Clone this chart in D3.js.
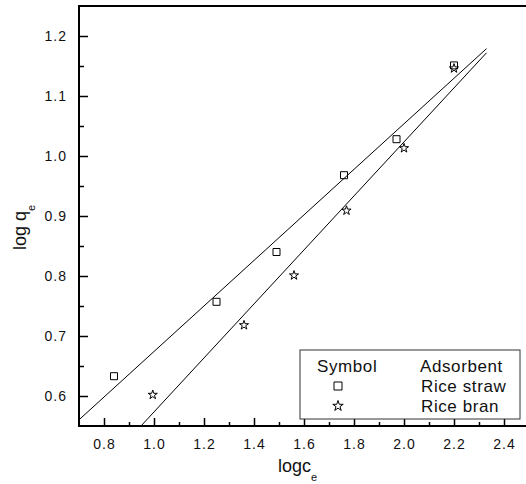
<!DOCTYPE html>
<html>
<head>
<meta charset="utf-8">
<script src="https://cdn.jsdelivr.net/npm/d3@7"></script>
<style>
  body { margin: 0; background: #fff; }
  svg { display: block; font-family: "Liberation Sans", Arial, sans-serif; }
</style>
</head>
<body>
<div id="chart"></div>
<script>
// values
let strawX = [0.84, 1.25, 1.49, 1.76, 1.97, 2.20];
let strawY = [0.633, 0.757, 0.840, 0.968, 1.028, 1.151];
let branX = [0.995, 1.36, 1.56, 1.77, 2.00, 2.20];
let branY = [0.602, 0.718, 0.801, 0.909, 1.013, 1.146];
let xTicks = [0.8, 1.0, 1.2, 1.4, 1.6, 1.8, 2.0, 2.2, 2.4];
let xMinor = [0.9, 1.1, 1.3, 1.5, 1.7, 1.9, 2.1, 2.3, 2.5];
let yTicks = [0.6, 0.7, 0.8, 0.9, 1.0, 1.1, 1.2];
let yMinor = [0.65, 0.75, 0.85, 0.95, 1.05, 1.15];
let fitRange = [0.6, 2.33];

let width = 526, height = 484;
let x = d3.scaleLinear().domain([0.7, 2.6]).range([79, 554]);
let y = d3.scaleLinear().domain([0.55, 1.25]).range([426, 6]);

let svg = d3.select("#chart").append("svg").attr("width", width).attr("height", height);
svg.append("rect").attr("width", width).attr("height", height).attr("fill", "#fff");

svg.append("defs").append("clipPath").attr("id", "plotclip")
  .append("rect").attr("x", x(0.7)).attr("y", y(1.25))
  .attr("width", x(2.6) - x(0.7)).attr("height", y(0.55) - y(1.25));

// least squares fit from the points
function fit(xs, ys) {
  let mx = d3.mean(xs), my = d3.mean(ys);
  let sxy = d3.sum(xs, (v, i) => (v - mx) * (ys[i] - my));
  let sxx = d3.sum(xs, v => (v - mx) * (v - mx));
  let b = sxy / sxx;
  return { b: b, a: my - b * mx };
}

let series = [
  { xs: strawX, ys: strawY, sym: d3.symbolSquare, size: 49 },
  { xs: branX, ys: branY, sym: d3.symbolStar, size: 26 }
];

let plot = svg.append("g").attr("clip-path", "url(#plotclip)");
let line = d3.line().x(d => x(d[0])).y(d => y(d[1]));

series.forEach(function(s) {
  let f = fit(s.xs, s.ys);
  plot.append("path")
    .attr("d", line(fitRange.map(v => [v, f.a + f.b * v])))
    .attr("fill", "none").attr("stroke", "#000").attr("stroke-width", 1);

  plot.selectAll(null).data(s.xs).enter().append("path")
    .attr("transform", (d, i) => "translate(" + x(d) + "," + y(s.ys[i]) + ")")
    .attr("d", d3.symbol(s.sym, s.size))
    .attr("fill", "none").attr("stroke", "#000").attr("stroke-width", 1);
});

// axes
let xAxis = d3.axisBottom(x).tickValues(xTicks).tickSize(-8).tickPadding(13).tickFormat(d3.format(".1f"));
let xAxisMinor = d3.axisBottom(x).tickValues(xMinor).tickSize(-4).tickFormat("");
let yAxis = d3.axisLeft(y).tickValues(yTicks).tickSize(-9).tickPadding(12).tickFormat(d3.format(".1f"));
let yAxisMinor = d3.axisLeft(y).tickValues(yMinor).tickSize(-5).tickFormat("");

function styleAxis(g) {
  g.select(".domain").remove();
  g.selectAll(".tick line").attr("stroke", "#000").attr("stroke-width", 1.5);
  g.selectAll(".tick text").attr("fill", "#111").style("font-size", "14px").style("letter-spacing", "1px");
}

svg.append("g").attr("transform", "translate(0," + y(0.55) + ")").call(xAxis).call(styleAxis);
svg.append("g").attr("transform", "translate(0," + y(0.55) + ")").call(xAxisMinor).call(styleAxis);
svg.append("g").attr("transform", "translate(" + x(0.7) + ",0)").call(yAxis).call(styleAxis);
svg.append("g").attr("transform", "translate(" + x(0.7) + ",0)").call(yAxisMinor).call(styleAxis);

// frame
svg.append("rect")
  .attr("x", x(0.7)).attr("y", y(1.25))
  .attr("width", x(2.6) - x(0.7)).attr("height", y(0.55) - y(1.25))
  .attr("fill", "none").attr("stroke", "#000").attr("stroke-width", 2);

// axis titles
let xt = svg.append("text").attr("x", 278).attr("y", 472)
  .style("font-size", "18px").attr("fill", "#111");
xt.append("tspan").text("logc");
xt.append("tspan").attr("dy", 9).style("font-size", "11px").text("e");

let yt = svg.append("text").attr("transform", "translate(26,250) rotate(-90)")
  .style("font-size", "18px").attr("fill", "#111");
yt.append("tspan").text("log q");
yt.append("tspan").attr("dy", 9).style("font-size", "11px").text("e");

// legend
let lg = svg.append("g").style("font-size", "17px").style("letter-spacing", "0.6px");
lg.append("rect").attr("x", 300).attr("y", 350).attr("width", 220).attr("height", 69)
  .attr("fill", "#fff").attr("stroke", "#333").attr("stroke-width", 1);
let legendRows = [
  { label: "Rice straw", sym: d3.symbolSquare, size: 64 },
  { label: "Rice bran", sym: d3.symbolStar, size: 34 }
];
lg.append("text").attr("x", 317).attr("y", 372).attr("fill", "#111").text("Symbol");
lg.append("text").attr("x", 420).attr("y", 372).attr("fill", "#111").text("Adsorbent");
legendRows.forEach(function(r, i) {
  lg.append("path").attr("transform", "translate(338," + (386 + i * 20) + ")")
    .attr("d", d3.symbol(r.sym, r.size))
    .attr("fill", "none").attr("stroke", "#000").attr("stroke-width", 1);
  lg.append("text").attr("x", 421).attr("y", 392 + i * 20)
    .attr("fill", "#111").text(r.label);
});
</script>
</body>
</html>
